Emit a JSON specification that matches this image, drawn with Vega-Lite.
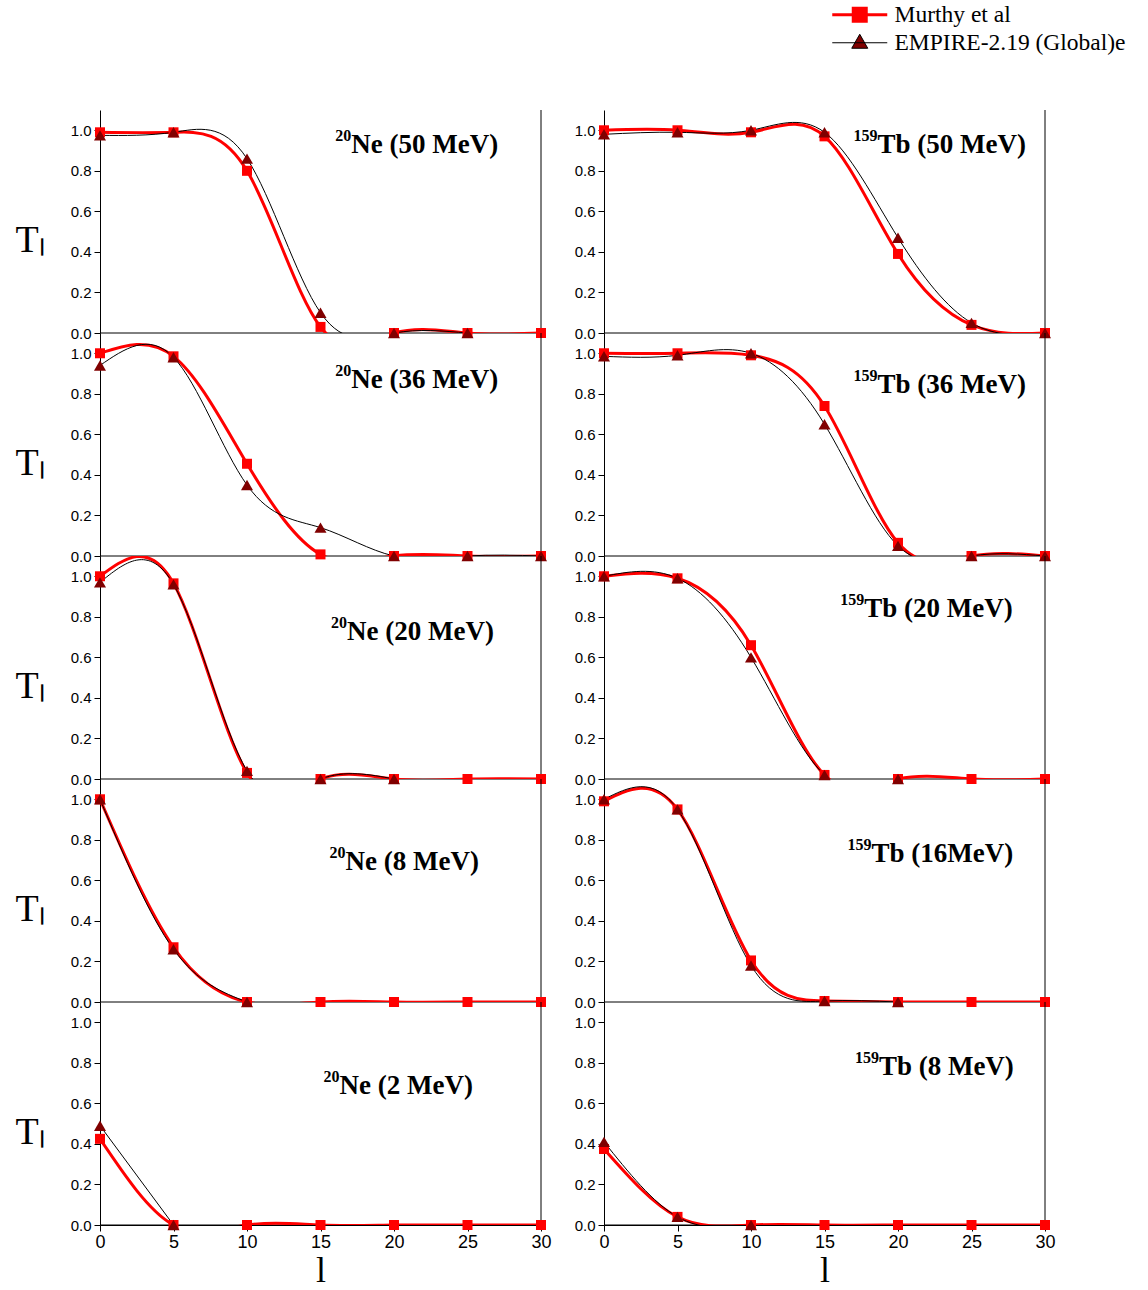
{
  "$schema": "https://vega.github.io/schema/vega-lite/v6.json",
  "padding": {"left": 15, "top": 3, "right": 5, "bottom": 0},
  "data": {"values": [
    {"r":1,"c":"Ne","s":"M","l":0,"T":0.99},{"r":1,"c":"Ne","s":"M","l":5,"T":0.99},{"r":1,"c":"Ne","s":"M","l":10,"T":0.80},{"r":1,"c":"Ne","s":"M","l":15,"T":0.03},{"r":1,"c":"Ne","s":"M","l":20,"T":0},{"r":1,"c":"Ne","s":"M","l":25,"T":0},{"r":1,"c":"Ne","s":"M","l":30,"T":0},
    {"r":1,"c":"Ne","s":"E","l":0,"T":0.975},{"r":1,"c":"Ne","s":"E","l":5,"T":0.99},{"r":1,"c":"Ne","s":"E","l":10,"T":0.86},{"r":1,"c":"Ne","s":"E","l":15,"T":0.10},{"r":1,"c":"Ne","s":"E","l":20,"T":0},{"r":1,"c":"Ne","s":"E","l":25,"T":0},
    {"r":1,"c":"Tb","s":"M","l":0,"T":1.0},{"r":1,"c":"Tb","s":"M","l":5,"T":1.0},{"r":1,"c":"Tb","s":"M","l":10,"T":0.99},{"r":1,"c":"Tb","s":"M","l":15,"T":0.97},{"r":1,"c":"Tb","s":"M","l":20,"T":0.39},{"r":1,"c":"Tb","s":"M","l":25,"T":0.04},{"r":1,"c":"Tb","s":"M","l":30,"T":0},
    {"r":1,"c":"Tb","s":"E","l":0,"T":0.98},{"r":1,"c":"Tb","s":"E","l":5,"T":0.99},{"r":1,"c":"Tb","s":"E","l":10,"T":1.0},{"r":1,"c":"Tb","s":"E","l":15,"T":0.99},{"r":1,"c":"Tb","s":"E","l":20,"T":0.47},{"r":1,"c":"Tb","s":"E","l":25,"T":0.05},{"r":1,"c":"Tb","s":"E","l":30,"T":0},
    {"r":2,"c":"Ne","s":"M","l":0,"T":1.0},{"r":2,"c":"Ne","s":"M","l":5,"T":0.985},{"r":2,"c":"Ne","s":"M","l":10,"T":0.455},{"r":2,"c":"Ne","s":"M","l":15,"T":0.008},{"r":2,"c":"Ne","s":"M","l":20,"T":0},{"r":2,"c":"Ne","s":"M","l":25,"T":0},{"r":2,"c":"Ne","s":"M","l":30,"T":0},
    {"r":2,"c":"Ne","s":"E","l":0,"T":0.94},{"r":2,"c":"Ne","s":"E","l":5,"T":0.98},{"r":2,"c":"Ne","s":"E","l":10,"T":0.35},{"r":2,"c":"Ne","s":"E","l":15,"T":0.14},{"r":2,"c":"Ne","s":"E","l":20,"T":0},{"r":2,"c":"Ne","s":"E","l":25,"T":0},{"r":2,"c":"Ne","s":"E","l":30,"T":0},
    {"r":2,"c":"Tb","s":"M","l":0,"T":1.0},{"r":2,"c":"Tb","s":"M","l":5,"T":1.0},{"r":2,"c":"Tb","s":"M","l":10,"T":0.99},{"r":2,"c":"Tb","s":"M","l":15,"T":0.74},{"r":2,"c":"Tb","s":"M","l":20,"T":0.065},{"r":2,"c":"Tb","s":"M","l":25,"T":0},{"r":2,"c":"Tb","s":"M","l":30,"T":0},
    {"r":2,"c":"Tb","s":"E","l":0,"T":0.985},{"r":2,"c":"Tb","s":"E","l":5,"T":0.99},{"r":2,"c":"Tb","s":"E","l":10,"T":1.0},{"r":2,"c":"Tb","s":"E","l":15,"T":0.65},{"r":2,"c":"Tb","s":"E","l":20,"T":0.05},{"r":2,"c":"Tb","s":"E","l":25,"T":0},{"r":2,"c":"Tb","s":"E","l":30,"T":0},
    {"r":3,"c":"Ne","s":"M","l":0,"T":1.0},{"r":3,"c":"Ne","s":"M","l":5,"T":0.965},{"r":3,"c":"Ne","s":"M","l":10,"T":0.03},{"r":3,"c":"Ne","s":"M","l":15,"T":0},{"r":3,"c":"Ne","s":"M","l":20,"T":0},{"r":3,"c":"Ne","s":"M","l":25,"T":0},{"r":3,"c":"Ne","s":"M","l":30,"T":0},
    {"r":3,"c":"Ne","s":"E","l":0,"T":0.97},{"r":3,"c":"Ne","s":"E","l":5,"T":0.96},{"r":3,"c":"Ne","s":"E","l":10,"T":0.04},{"r":3,"c":"Ne","s":"E","l":15,"T":0},{"r":3,"c":"Ne","s":"E","l":20,"T":0},
    {"r":3,"c":"Tb","s":"M","l":0,"T":1.0},{"r":3,"c":"Tb","s":"M","l":5,"T":0.99},{"r":3,"c":"Tb","s":"M","l":10,"T":0.66},{"r":3,"c":"Tb","s":"M","l":15,"T":0.02},{"r":3,"c":"Tb","s":"M","l":20,"T":0},{"r":3,"c":"Tb","s":"M","l":25,"T":0},{"r":3,"c":"Tb","s":"M","l":30,"T":0},
    {"r":3,"c":"Tb","s":"E","l":0,"T":1.0},{"r":3,"c":"Tb","s":"E","l":5,"T":0.99},{"r":3,"c":"Tb","s":"E","l":10,"T":0.60},{"r":3,"c":"Tb","s":"E","l":15,"T":0.02},{"r":3,"c":"Tb","s":"E","l":20,"T":0},
    {"r":4,"c":"Ne","s":"M","l":0,"T":1.0},{"r":4,"c":"Ne","s":"M","l":5,"T":0.27},{"r":4,"c":"Ne","s":"M","l":10,"T":0},{"r":4,"c":"Ne","s":"M","l":15,"T":0},{"r":4,"c":"Ne","s":"M","l":20,"T":0},{"r":4,"c":"Ne","s":"M","l":25,"T":0},{"r":4,"c":"Ne","s":"M","l":30,"T":0},
    {"r":4,"c":"Ne","s":"E","l":0,"T":1.0},{"r":4,"c":"Ne","s":"E","l":5,"T":0.26},{"r":4,"c":"Ne","s":"E","l":10,"T":0},
    {"r":4,"c":"Tb","s":"M","l":0,"T":0.99},{"r":4,"c":"Tb","s":"M","l":5,"T":0.95},{"r":4,"c":"Tb","s":"M","l":10,"T":0.205},{"r":4,"c":"Tb","s":"M","l":15,"T":0.005},{"r":4,"c":"Tb","s":"M","l":20,"T":0},{"r":4,"c":"Tb","s":"M","l":25,"T":0},{"r":4,"c":"Tb","s":"M","l":30,"T":0},
    {"r":4,"c":"Tb","s":"E","l":0,"T":1.0},{"r":4,"c":"Tb","s":"E","l":5,"T":0.95},{"r":4,"c":"Tb","s":"E","l":10,"T":0.18},{"r":4,"c":"Tb","s":"E","l":15,"T":0.005},{"r":4,"c":"Tb","s":"E","l":20,"T":0},
    {"r":5,"c":"Ne","s":"M","l":0,"T":0.425},{"r":5,"c":"Ne","s":"M","l":5,"T":0},{"r":5,"c":"Ne","s":"M","l":10,"T":0},{"r":5,"c":"Ne","s":"M","l":15,"T":0},{"r":5,"c":"Ne","s":"M","l":20,"T":0},{"r":5,"c":"Ne","s":"M","l":25,"T":0},{"r":5,"c":"Ne","s":"M","l":30,"T":0},
    {"r":5,"c":"Ne","s":"E","l":0,"T":0.49},{"r":5,"c":"Ne","s":"E","l":5,"T":0},
    {"r":5,"c":"Tb","s":"M","l":0,"T":0.375},{"r":5,"c":"Tb","s":"M","l":5,"T":0.04},{"r":5,"c":"Tb","s":"M","l":10,"T":0},{"r":5,"c":"Tb","s":"M","l":15,"T":0},{"r":5,"c":"Tb","s":"M","l":20,"T":0},{"r":5,"c":"Tb","s":"M","l":25,"T":0},{"r":5,"c":"Tb","s":"M","l":30,"T":0},
    {"r":5,"c":"Tb","s":"E","l":0,"T":0.41},{"r":5,"c":"Tb","s":"E","l":5,"T":0.04},{"r":5,"c":"Tb","s":"E","l":10,"T":0},
    {"r":1,"c":"Ne","sup":"20","main":"Ne (50 MeV)","l":17.1,"T":0.89},
    {"r":2,"c":"Ne","sup":"20","main":"Ne (36 MeV)","l":17.1,"T":0.83},
    {"r":3,"c":"Ne","sup":"20","main":"Ne (20 MeV)","l":16.8,"T":0.685},
    {"r":4,"c":"Ne","sup":"20","main":"Ne (8 MeV)","l":16.7,"T":0.65},
    {"r":5,"c":"Ne","sup":"20","main":"Ne (2 MeV)","l":16.3,"T":0.645},
    {"r":1,"c":"Tb","sup":"159","main":"Tb (50 MeV)","l":18.6,"T":0.887},
    {"r":2,"c":"Tb","sup":"159","main":"Tb (36 MeV)","l":18.6,"T":0.805},
    {"r":3,"c":"Tb","sup":"159","main":"Tb (20 MeV)","l":17.7,"T":0.80},
    {"r":4,"c":"Tb","sup":"159","main":"Tb (16MeV)","l":18.2,"T":0.69},
    {"r":5,"c":"Tb","sup":"159","main":"Tb (8 MeV)","l":18.7,"T":0.74}
  ]},
  "facet": {
    "row": {"field": "r", "type": "ordinal", "header": {"title": null, "labelExpr": "'Tₗ'", "labelAngle": 0, "labelFont": "Liberation Serif", "labelFontSize": 38, "labelColor": "#000", "labelAlign": "right", "labelBaseline": "top", "labelPadding": 26, "labelOrient": "left"}},
    "column": {"field": "c", "type": "nominal", "header": {"title": null, "labels": false}}
  },
  "spacing": {"row": 0, "column": 63},
  "bounds": "flush",
  "resolve": {"axis": {"y": "independent"}},
  "spec": {
    "width": 441,
    "height": 223,
    "layer": [
      {
        "transform": [{"filter": "isValid(datum.main)"}],
        "mark": {"type": "rule", "color": "#000", "strokeWidth": 1},
        "encoding": {"y": {"datum": 0, "type": "quantitative"}}
      },
      {
        "transform": [{"filter": "isValid(datum.main)"}],
        "mark": {"type": "rule", "color": "#000", "strokeWidth": 1},
        "encoding": {"x": {"datum": 30, "type": "quantitative"}}
      },
      {
        "transform": [{"filter": "datum.s == 'M'"}],
        "mark": {"type": "line", "interpolate": "natural", "color": "#ff0000", "strokeWidth": 3, "clip": true},
        "encoding": {
          "x": {"field": "l", "type": "quantitative", "title": "l", "scale": {"domain": [0, 30], "nice": false},
            "axis": {"values": [0, 2.5, 5, 7.5, 10, 12.5, 15, 17.5, 20, 22.5, 25, 27.5, 30],
              "labelExpr": "datum.value % 5 == 0 ? format(datum.value, 'd') : ''",
              "tickSize": {"condition": {"test": "datum.value % 5 != 0", "value": 3}, "value": 6},
              "labelFlush": false, "labelOverlap": false, "grid": false}},
          "y": {"field": "T", "type": "quantitative", "title": null, "scale": {"domain": [0, 1.1], "nice": false, "zero": false},
            "axis": {"values": [0, 0.1, 0.2, 0.3, 0.4, 0.5, 0.6, 0.7, 0.8, 0.9, 1.0],
              "labelExpr": "round(datum.value * 10) % 2 == 0 ? format(datum.value, '.1f') : ''",
              "tickSize": {"condition": {"test": "round(datum.value * 10) % 2 == 1", "value": 3}, "value": 6},
              "labelOverlap": false, "grid": false}}
        }
      },
      {
        "transform": [{"filter": "datum.s == 'E'"}],
        "mark": {"type": "line", "interpolate": "natural", "color": "#000000", "strokeWidth": 1, "clip": true},
        "encoding": {
          "x": {"field": "l", "type": "quantitative", "scale": {"domain": [0, 30], "nice": false}},
          "y": {"field": "T", "type": "quantitative", "scale": {"domain": [0, 1.1], "nice": false, "zero": false}}
        }
      },
      {
        "transform": [{"filter": "datum.s == 'M'"}],
        "mark": {"type": "point", "shape": "square", "filled": true, "color": "#ff0000", "size": 100, "opacity": 1},
        "encoding": {
          "x": {"field": "l", "type": "quantitative", "scale": {"domain": [0, 30], "nice": false}},
          "y": {"field": "T", "type": "quantitative", "scale": {"domain": [0, 1.1], "nice": false, "zero": false}}
        }
      },
      {
        "transform": [{"filter": "datum.s == 'E'"}],
        "mark": {"type": "point", "shape": "triangle-up", "filled": true, "color": "#800000", "size": 145, "opacity": 1},
        "encoding": {
          "x": {"field": "l", "type": "quantitative", "scale": {"domain": [0, 30], "nice": false}},
          "y": {"field": "T", "type": "quantitative", "scale": {"domain": [0, 1.1], "nice": false, "zero": false}}
        }
      },
      {
        "transform": [{"filter": "isValid(datum.s) && datum.l == 0"}],
        "mark": {"type": "point", "filled": true, "opacity": 0},
        "encoding": {
          "x": {"field": "l", "type": "quantitative", "scale": {"domain": [0, 30], "nice": false}},
          "y": {"field": "T", "type": "quantitative", "scale": {"domain": [0, 1.1], "nice": false, "zero": false}},
          "shape": {"field": "s", "type": "nominal", "scale": {"domain": ["M", "E"], "range": ["M-2.75,0H2.75M-0.65,-0.65H0.65V0.65H-0.65Z", "M-2.75,0H2.75M0,-0.85L0.8,0.55H-0.8Z"]},
            "legend": {"orient": "none", "legendX": 748, "legendY": -107, "title": null,
              "labelExpr": "datum.label == 'M' ? 'Murthy et al' : 'EMPIRE-2.19 (Global)e'"}},
          "fill": {"field": "s", "type": "nominal", "scale": {"domain": ["M", "E"], "range": ["#ff0000", "#800000"]}},
          "stroke": {"field": "s", "type": "nominal", "scale": {"domain": ["M", "E"], "range": ["#ff0000", "#000000"]}},
          "strokeWidth": {"field": "s", "type": "nominal", "scale": {"domain": ["M", "E"], "range": [3, 1]}}
        }
      },
      {
        "transform": [{"filter": "isValid(datum.main)"}],
        "mark": {"type": "text", "align": "right", "baseline": "alphabetic", "dy": -12, "font": "Liberation Serif", "fontWeight": "bold", "fontSize": 16, "color": "#000"},
        "encoding": {
          "x": {"field": "l", "type": "quantitative", "scale": {"domain": [0, 30], "nice": false}},
          "y": {"field": "T", "type": "quantitative", "scale": {"domain": [0, 1.1], "nice": false, "zero": false}},
          "text": {"field": "sup"}
        }
      },
      {
        "transform": [{"filter": "isValid(datum.main)"}],
        "mark": {"type": "text", "align": "left", "baseline": "alphabetic", "font": "Liberation Serif", "fontWeight": "bold", "fontSize": 27, "color": "#000"},
        "encoding": {
          "x": {"field": "l", "type": "quantitative", "scale": {"domain": [0, 30], "nice": false}},
          "y": {"field": "T", "type": "quantitative", "scale": {"domain": [0, 1.1], "nice": false, "zero": false}},
          "text": {"field": "main"}
        }
      }
    ]
  },
  "config": {
    "view": {"stroke": null},
    "axis": {"domainColor": "#000", "tickColor": "#000", "labelColor": "#000", "titleColor": "#000", "labelFont": "Liberation Sans", "domainWidth": 1, "tickWidth": 1},
    "axisY": {"labelFontSize": 15, "labelPadding": 3},
    "axisX": {"labelFontSize": 18, "labelPadding": 2, "titleFont": "Liberation Serif", "titleFontSize": 36, "titleFontWeight": "normal", "titlePadding": 2},
    "legend": {"labelFont": "Liberation Serif", "labelFontSize": 23.5, "labelColor": "#000", "labelLimit": 400, "symbolSize": 400, "symbolOpacity": 1, "labelOffset": 23, "rowPadding": 2, "padding": 0}
  }
}
